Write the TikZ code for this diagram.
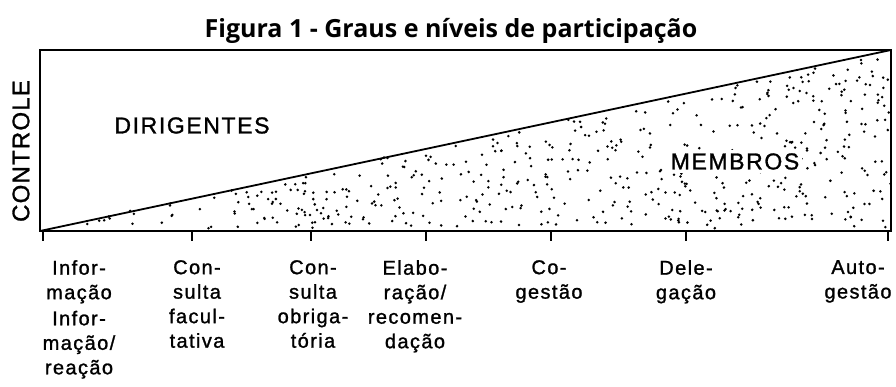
\documentclass[tikz,border=0pt]{standalone}
\usepackage{fontspec}
\setmainfont{Liberation Sans}
\newfontfamily\titlefont{Open Sans}
\usetikzlibrary{positioning}

\tikzset{
  frame/.style={line width=1.8pt},
  tickmark/.style={line width=2.6pt},
  stipple/.style={fill=black},
  arealabel/.style={inner sep=0pt,
    font=\fontsize{23}{23}\selectfont\addfontfeatures{LetterSpace=7,FakeBold=1.2}},
  axislabel/.style={align=center,anchor=north,inner sep=0pt,
    font=\fontsize{20}{24.5}\selectfont\addfontfeatures{LetterSpace=7,FakeBold=1.2}}
}

\begin{document}
\begin{tikzpicture}[x=1pt,y=-1pt]
    \useasboundingbox (0,0) rectangle (896,387);

    \node [anchor=base,inner sep=0pt,font=\titlefont\bfseries\fontsize{25}{25}\selectfont]
      (title) at (451,38) {Figura 1 - Graus e níveis de participação};

    % corners of the chart
    \coordinate (tl) at (40,50);
    \coordinate (tr) at (891,50);
    \coordinate (bl) at (40,231);
    \coordinate (br) at (891,231);

    % dotted area (members)
    \pgfmathsetseed{1987}
    \foreach \i in {1,...,540} {
        \pgfmathsetmacro\u{rnd}
        \pgfmathsetmacro\v{rnd}
        \pgfmathsetmacro\uu{ifthenelse(\u+\v>1,1-\u,\u)}
        \pgfmathsetmacro\vv{ifthenelse(\u+\v>1,1-\v,\v)}
        \fill [stipple] ({40+851*(\uu+\vv)},{229-177*\vv}) circle (1.4pt);
    }

    \draw [frame] (tl) rectangle (br);
    \draw [frame] (bl) -- (tr);

    \node [arealabel] (dirigentes) at (192,125.5) {DIRIGENTES};
    \node [arealabel,fill=white,inner sep=3pt] (membros) at (735,161.5) {MEMBROS};
    \node [arealabel,rotate=90,font=\fontsize{24}{24}\selectfont\addfontfeatures{LetterSpace=5,FakeBold=1.2}]
      (controle) at (21,151) {CONTROLE};

    % scale
    \foreach \x/\name in {43/info,192/facul,311/obrig,426/recom,551/coges,686/deleg,888/autog}
        \draw [tickmark] (\x,231) coordinate (t-\name) -- (\x,241);

    \node [axislabel] (info) at (79,260) {Infor-\\mação};
    \node [axislabel,below=7pt of info] (inforeac) {Infor-\\mação/\\reação};
    \node [axislabel] (facul) at (197,260) {Con-\\sulta\\facul-\\tativa};
    \node [axislabel] (obrig) at (313,260) {Con-\\sulta\\obriga-\\tória};
    \node [axislabel] (recom) at (415,260) {Elabo-\\ração/\\recomen-\\dação};
    \node [axislabel] (coges) at (549,260) {Co-\\gestão};
    \node [axislabel] (deleg) at (686,260) {Dele-\\gação};
    \node [axislabel] (autog) at (858,260) {Auto-\\gestão};
\end{tikzpicture}
\end{document}
